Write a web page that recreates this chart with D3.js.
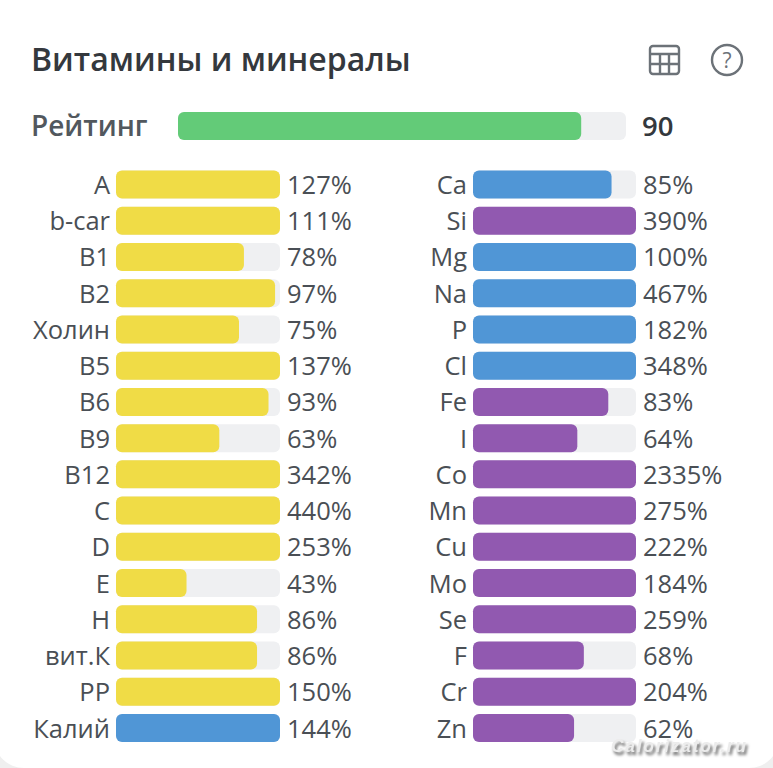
<!DOCTYPE html>
<html>
<head>
<meta charset="utf-8">
<script src="https://cdn.jsdelivr.net/npm/d3@7"></script>
<style>
html, body { margin: 0; padding: 0; background: #fff; }
svg { display: block; }
text { font-family: "Open Sans", "Noto Sans", sans-serif; }
</style>
</head>
<body>
<svg id="svg" width="773" height="768"></svg>
<script>
// данные
const titleText = "Витамины и минералы";
const ratingLabel = "Рейтинг";
const ratingValue = 90;

const leftNames = ["A", "b-car", "B1", "B2", "Холин", "B5", "B6", "B9", "B12", "C", "D", "E", "H", "вит.К", "PP", "Калий"];
const leftValues = [127, 111, 78, 97, 75, 137, 93, 63, 342, 440, 253, 43, 86, 86, 150, 144];
const leftKinds = ["v", "v", "v", "v", "v", "v", "v", "v", "v", "v", "v", "v", "v", "v", "v", "m"];

const rightNames = ["Ca", "Si", "Mg", "Na", "P", "Cl", "Fe", "I", "Co", "Mn", "Cu", "Mo", "Se", "F", "Cr", "Zn"];
const rightValues = [85, 390, 100, 467, 182, 348, 83, 64, 2335, 275, 222, 184, 259, 68, 204, 62];
const rightKinds = ["m", "t", "m", "m", "m", "m", "t", "t", "t", "t", "t", "t", "t", "t", "t", "t"];

const kindColors = { v: "#f0dc46", m: "#5096d6", t: "#9159b0" };

const svg = d3.select("#svg");

// фон и карточка со скруглением
svg.append("rect").attr("width", 773).attr("height", 768).attr("fill", "#efefef");
svg.append("rect").attr("x", -6).attr("y", -40).attr("width", 785).attr("height", 808).attr("rx", 30).attr("fill", "#fff");

// заголовок
svg.append("text").attr("x", 31).attr("y", 71)
	.attr("font-size", 32).attr("font-weight", 600).attr("fill", "#34383d")
	.text(titleText);

// иконка таблицы
const icon = svg.append("g").attr("fill", "none").attr("stroke", "#6c7278").attr("stroke-width", 2.4);
icon.append("rect").attr("x", 650).attr("y", 46).attr("width", 29).attr("height", 28).attr("rx", 3);
icon.append("path").attr("d", "M650 54H679M650 64H679M660 54V74M669 54V74");

// иконка вопроса
const help = svg.append("g");
help.append("circle").attr("cx", 727).attr("cy", 60).attr("r", 15)
	.attr("fill", "none").attr("stroke", "#6c7278").attr("stroke-width", 2.4);
help.append("text").attr("x", 727).attr("y", 68).attr("text-anchor", "middle")
	.attr("font-size", 21).attr("fill", "#6c7278").text("?");

// рейтинг
const xRating = d3.scaleLinear().domain([0, 100]).range([178, 626]);
svg.append("text").attr("x", 31).attr("y", 136)
	.attr("font-size", 28).attr("font-weight", 600).attr("fill", "#52585e").text(ratingLabel);
svg.append("rect").attr("x", xRating(0)).attr("y", 112)
	.attr("width", xRating(100) - xRating(0)).attr("height", 28).attr("rx", 6).attr("fill", "#eff0f2");
svg.append("rect").attr("x", xRating(0)).attr("y", 112)
	.attr("width", xRating(ratingValue) - xRating(0)).attr("height", 28).attr("rx", 6).attr("fill", "#63cb78");
svg.append("text").attr("x", 642).attr("y", 136)
	.attr("font-size", 27.5).attr("font-weight", 600).attr("fill", "#34383d").text(ratingValue);

const y = d3.scaleLinear().domain([0, 15]).range([184.5, 728]);
const barH = 28;

function drawColumn(names, values, kinds, x0, x1) {
	const x = d3.scaleLinear().domain([0, 100]).range([x0, x1]).clamp(true);
	const rows = names.map((name, i) => ({ name, value: values[i], kind: kinds[i], i }));
	const row = svg.append("g").selectAll("g").data(rows).enter().append("g");

	row.append("rect")
		.attr("x", x0).attr("y", d => y(d.i) - barH / 2)
		.attr("width", x1 - x0).attr("height", barH).attr("rx", 6)
		.attr("fill", "#eff0f2");

	row.append("rect")
		.attr("x", x0).attr("y", d => y(d.i) - barH / 2)
		.attr("width", d => x(d.value) - x0).attr("height", barH).attr("rx", 6)
		.attr("fill", d => kindColors[d.kind]);

	row.append("text")
		.attr("x", x0 - 6).attr("y", d => y(d.i) + 9.5)
		.attr("text-anchor", "end").attr("font-size", 25.5).attr("fill", "#4a4f55")
		.text(d => d.name);

	row.append("text")
		.attr("x", x1 + 7).attr("y", d => y(d.i) + 9.5)
		.attr("font-size", 25.5).attr("fill", "#4a4f55")
		.text(d => d.value + "%");
}

drawColumn(leftNames, leftValues, leftKinds, 116, 280);
drawColumn(rightNames, rightValues, rightKinds, 473, 636);

// водяной знак
svg.append("text").attr("x", 611).attr("y", 752)
	.attr("font-size", 17.5).attr("font-weight", 700).attr("font-style", "italic")
	.style("font-family", "Liberation Sans").attr("letter-spacing", 1.7)
	.style("filter", "drop-shadow(2px 3px 1.5px #666)")
	.attr("fill", "#ececec").text("Calorizator.ru");
</script>
</body>
</html>
